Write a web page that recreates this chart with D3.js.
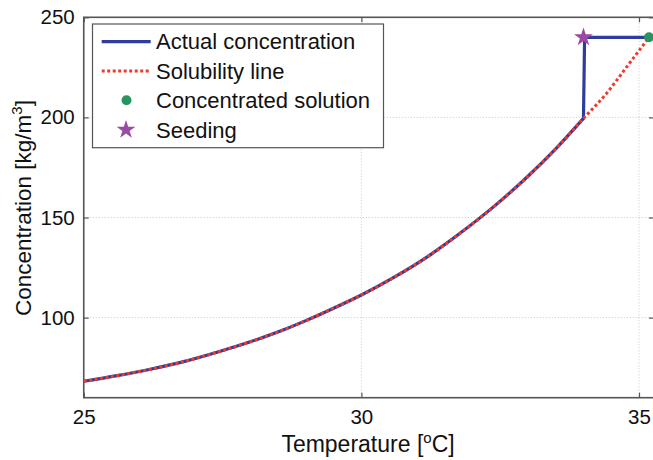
<!DOCTYPE html>
<html>
<head>
<meta charset="utf-8">
<script src="https://cdn.jsdelivr.net/npm/d3@7"></script>
<style>
  body { margin: 0; background: #fff; }
  svg { font-family: "Liberation Sans", Arial, sans-serif; }
</style>
</head>
<body>
<svg width="653" height="460"></svg>
<script>
// solubility line
const solTemp = [25.0, 25.6, 26.2, 26.8, 27.4, 28.0, 28.6, 29.0, 29.5, 30.0, 30.6, 31.2, 31.8, 32.4, 33.0, 33.5, 34.0, 34.4, 34.8, 35.18];
const solConc = [68.2, 71.0, 74.2, 78.0, 82.7, 87.9, 93.9, 98.5, 104.7, 111.3, 120.3, 130.6, 142.6, 155.8, 170.6, 184.3, 199.5, 211.5, 226.0, 240.0];

// actual concentration: follows solubility until seeding, then jump and plateau
const actTemp = [25.0, 25.6, 26.2, 26.8, 27.4, 28.0, 28.6, 29.0, 29.5, 30.0, 30.6, 31.2, 31.8, 32.4, 33.0, 33.5, 34.0];
const actConc = [68.2, 71.0, 74.2, 78.0, 82.7, 87.9, 93.9, 98.5, 104.7, 111.3, 120.3, 130.6, 142.6, 155.8, 170.6, 184.3, 199.5];
const jumpTemp = [34.0, 34.02, 35.18];
const jumpConc = [199.5, 240.0, 240.0];

const concentrated = [35.18, 240];
const seeding = [34.0, 240];

const xTicks = [25, 30, 35];
const yTicks = [100, 150, 200, 250];

const legendLabels = ["Actual concentration", "Solubility line", "Concentrated solution", "Seeding"];

const blue = "#2e3d9c", red = "#ee3b2c", green = "#2a9460", purple = "#9a4aa3";

const margin = {top: 17.3, right: -1, bottom: 62.3, left: 83.75},
    width = 653 - margin.left - margin.right,
    height = 460 - margin.top - margin.bottom;

const svg = d3.select("svg");
const g = svg.append("g").attr("transform", `translate(${margin.left},${margin.top})`);

const x = d3.scaleLinear().domain([25, 35.27]).range([0, width]);
const y = d3.scaleLinear().domain([60, 250]).range([height, 0]);

// grid
g.append("g").selectAll("line").data(xTicks.slice(1)).join("line")
    .attr("x1", d => x(d)).attr("x2", d => x(d)).attr("y1", 0).attr("y2", height)
    .attr("stroke", "#c8c8c8").attr("stroke-width", 1).attr("stroke-dasharray", "1,2");
g.append("g").selectAll("line").data(yTicks.slice(0, -1)).join("line")
    .attr("x1", 0).attr("x2", width).attr("y1", d => y(d)).attr("y2", d => y(d))
    .attr("stroke", "#c8c8c8").attr("stroke-width", 1).attr("stroke-dasharray", "1,2");

// axes, ticks pointing inward
const axisColor = "#555";
const xAxis = g.append("g").attr("transform", `translate(0,${height})`)
    .call(d3.axisBottom(x).tickValues(xTicks).tickSize(-5).tickPadding(12).tickFormat(d3.format("d")));
const xTop = g.append("g")
    .call(d3.axisTop(x).tickValues(xTicks).tickSize(-5).tickFormat(""));
const yAxis = g.append("g")
    .call(d3.axisLeft(y).tickValues(yTicks).tickSize(-5).tickPadding(9).tickFormat(d3.format("d")));
const yRight = g.append("g").attr("transform", `translate(${width},0)`)
    .call(d3.axisRight(y).tickValues(yTicks).tickSize(-5).tickFormat(""));

[xAxis, xTop, yAxis, yRight].forEach(a => {
  a.select(".domain").remove();
  a.selectAll(".tick line").attr("stroke", axisColor).attr("stroke-width", 1.2);
  a.selectAll(".tick text").attr("fill", "#111").style("font-size", "20.5px").style("font-family", "'Liberation Sans', Arial, sans-serif");
});

g.append("rect").attr("x", 0).attr("y", 0).attr("width", width).attr("height", height)
    .attr("fill", "none").attr("stroke", axisColor).attr("stroke-width", 1.6);

const solData = solTemp.map((t, i) => [t, solConc[i]]);
const actData = actTemp.map((t, i) => [t, actConc[i]]);
const jumpData = jumpTemp.map((t, i) => [t, jumpConc[i]]);
const smooth = d3.line().x(d => x(d[0])).y(d => y(d[1])).curve(d3.curveMonotoneX);
const straight = d3.line().x(d => x(d[0])).y(d => y(d[1]));

g.append("path").attr("d", smooth(actData) + straight(jumpData).replace(/^M/, "L"))
    .attr("fill", "none").attr("stroke", blue).attr("stroke-width", 3.2)
    .attr("stroke-linejoin", "round");
g.append("path").datum(solData).attr("d", smooth)
    .attr("fill", "none").attr("stroke", red).attr("stroke-width", 3)
    .attr("stroke-dasharray", "3,2.5");

g.append("circle").attr("cx", x(concentrated[0])).attr("cy", y(concentrated[1]))
    .attr("r", 5).attr("fill", green);
g.append("path").attr("d", d3.symbol(d3.symbolStar, 110)())
    .attr("transform", `translate(${x(seeding[0])},${y(seeding[1])})`)
    .attr("fill", purple);

// axis titles
svg.append("text").attr("x", 368).attr("y", 452).attr("text-anchor", "middle")
    .style("font-size", "23px").attr("fill", "#111")
    .call(t => {
      t.append("tspan").text("Temperature [");
      t.append("tspan").attr("dy", -9).style("font-size", "15px").text("o");
      t.append("tspan").attr("dy", 9).text("C]");
    });
svg.append("text").attr("transform", "translate(31,208) rotate(-90)").attr("text-anchor", "middle")
    .style("font-size", "22.5px").attr("fill", "#111")
    .call(t => {
      t.append("tspan").text("Concentration [kg/m");
      t.append("tspan").attr("dy", -9).style("font-size", "15px").text("3");
      t.append("tspan").attr("dy", 9).text("]");
    });

// legend
const leg = svg.append("g");
leg.append("rect").attr("x", 92.5).attr("y", 24).attr("width", 291).attr("height", 123.7)
    .attr("fill", "#fff").attr("stroke", axisColor).attr("stroke-width", 1.2);
const rowY = [41.7, 71, 100.3, 129.8];
leg.append("line").attr("x1", 101.7).attr("x2", 150.7).attr("y1", rowY[0]).attr("y2", rowY[0])
    .attr("stroke", blue).attr("stroke-width", 3.2);
leg.append("line").attr("x1", 101.7).attr("x2", 150.7).attr("y1", rowY[1]).attr("y2", rowY[1])
    .attr("stroke", red).attr("stroke-width", 3).attr("stroke-dasharray", "3,2.5");
leg.append("circle").attr("cx", 126.5).attr("cy", rowY[2]).attr("r", 5).attr("fill", green);
leg.append("path").attr("d", d3.symbol(d3.symbolStar, 110)())
    .attr("transform", `translate(126,${rowY[3]})`).attr("fill", purple);
leg.selectAll("text.lab").data(legendLabels).join("text").attr("class", "lab")
    .attr("x", 156).attr("y", (d, i) => rowY[i]).attr("dy", "0.35em")
    .style("font-size", "22px").attr("fill", "#111").text(d => d);
</script>
</body>
</html>
